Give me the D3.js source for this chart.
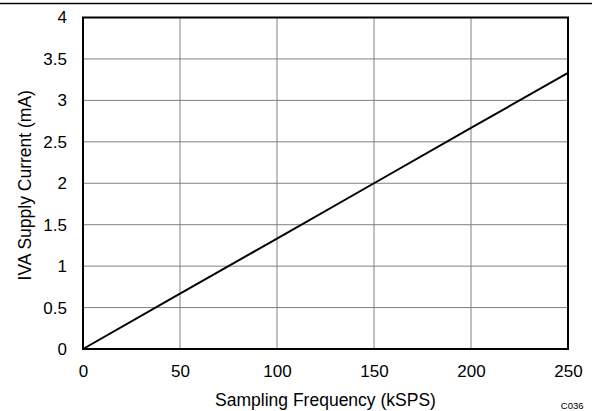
<!DOCTYPE html>
<html><head><meta charset="utf-8">
<script src="https://cdn.jsdelivr.net/npm/d3@7"></script>
<style>body{margin:0;background:#fff}svg{display:block}text{font-family:"Liberation Sans",Arial,sans-serif;fill:#000}</style>
</head><body><div id="c"></div>
<script>
const freq = [0, 50, 100, 150, 200, 250];
const current = [0, 0.667, 1.333, 2.0, 2.667, 3.333];
const xTicks = [0, 50, 100, 150, 200, 250];
const yTicks = [0, 0.5, 1, 1.5, 2, 2.5, 3, 3.5, 4];
const xTitle = "Sampling Frequency (kSPS)";
const yTitle = "IVA Supply Current (mA)";
const note = "C036";

const W = 592, H = 411;
const m = {l: 83, r: 24, t: 17.5, b: 62};
const svg = d3.select("#c").append("svg").attr("width", W).attr("height", H);
const x = d3.scaleLinear().domain([0, 250]).range([m.l, W - m.r]);
const y = d3.scaleLinear().domain([0, 4]).range([H - m.b, m.t]);

svg.append("line").attr("x1", 0).attr("x2", W).attr("y1", 3.5).attr("y2", 3.5)
  .attr("stroke", "#000").attr("stroke-width", 1.5);

const g = svg.append("g");
g.selectAll(".gx").data(xTicks.slice(1, -1)).join("line")
  .attr("x1", d => x(d)).attr("x2", d => x(d)).attr("y1", y(0)).attr("y2", y(4))
  .attr("stroke", "#808080").attr("stroke-width", 1);
g.selectAll(".gy").data(yTicks.slice(1, -1)).join("line")
  .attr("y1", d => y(d)).attr("y2", d => y(d)).attr("x1", x(0)).attr("x2", x(250))
  .attr("stroke", "#808080").attr("stroke-width", 1);

const line = d3.line().x((d, i) => x(freq[i])).y(d => y(d));
svg.append("path").datum(current).attr("d", line).attr("fill", "none")
  .attr("stroke", "#000").attr("stroke-width", 2);

svg.append("rect").attr("x", x(0)).attr("y", y(4)).attr("width", x(250) - x(0)).attr("height", y(0) - y(4))
  .attr("fill", "none").attr("stroke", "#000").attr("stroke-width", 2);

const xa = svg.append("g").attr("transform", `translate(0,${y(0)})`)
  .call(d3.axisBottom(x).tickValues(xTicks).tickSize(0).tickPadding(16).tickFormat(d3.format("d")));
xa.select(".domain").remove();
xa.selectAll("text").attr("font-size", 17).attr("font-family", "Liberation Sans, Arial, sans-serif").attr("fill", "#000");

const ya = svg.append("g").attr("transform", `translate(${x(0)},0)`)
  .call(d3.axisLeft(y).tickValues(yTicks).tickSize(0).tickPadding(16).tickFormat(d => String(d)));
ya.select(".domain").remove();
ya.selectAll("text").attr("font-size", 17).attr("font-family", "Liberation Sans, Arial, sans-serif").attr("fill", "#000");

svg.append("text").attr("x", (x(0) + x(250)) / 2).attr("y", 406).attr("text-anchor", "middle")
  .attr("font-size", 17.5).text(xTitle);
svg.append("text").attr("transform", `translate(31,${(y(0) + y(4)) / 2 + 2}) rotate(-90)`)
  .attr("text-anchor", "middle").attr("font-size", 17.5).text(yTitle);
svg.append("text").attr("x", 583.5).attr("y", 409).attr("text-anchor", "end").attr("font-size", 9.5).text(note);
</script></body></html>
